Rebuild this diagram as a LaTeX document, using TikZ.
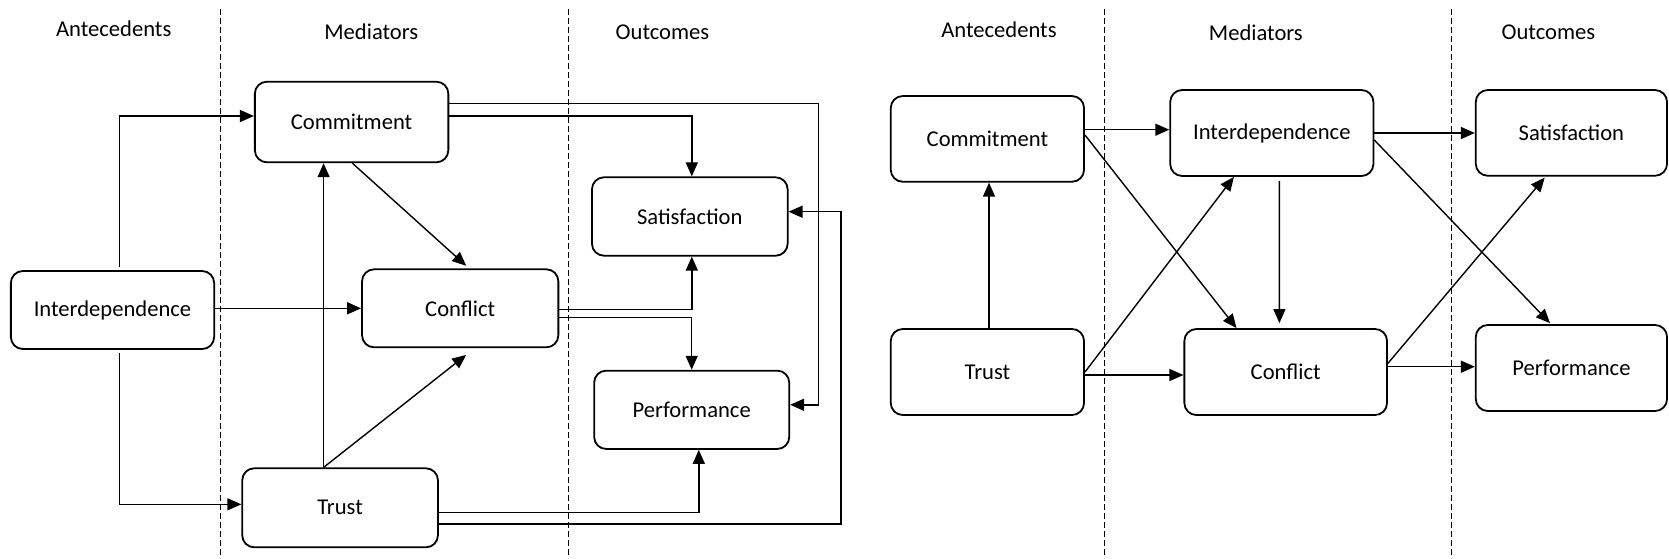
\documentclass[tikz,border=0pt]{standalone}
\usepackage{fontspec}
\setmainfont{Carlito}
\usetikzlibrary{arrows.meta}
\begin{document}
\begin{tikzpicture}[x=1pt,y=-1pt,
  box/.style={draw, line width=1.8pt, rounded corners=12pt, inner sep=0pt, align=center},
  conn/.style={line width=1.4pt, -{Triangle[length=14pt,width=12pt]}},
  divider/.style={line width=1.3pt, dash pattern=on 6pt off 3pt},
  header/.style={anchor=base, inner sep=0pt},
  every node/.style={font=\fontsize{22.6}{27}\selectfont}]
\useasboundingbox (0,0) rectangle (1669,558);
% dividers
\draw[divider] (220.5,9) -- (220.5,558);
\draw[divider] (568.2,9) -- (568.2,558);
\draw[divider] (1104.4,9) -- (1104.4,558);
\draw[divider] (1451.2,9) -- (1451.2,558);
% headers
\node[header] (hA1) at (113.7,36) {Antecedents};
\node[header] (hM1) at (371.3,39.3) {Mediators};
\node[header] (hO1) at (662.5,39) {Outcomes};
\node[header] (hA2) at (998.9,37.3) {Antecedents};
\node[header] (hM2) at (1255.9,40.7) {Mediators};
\node[header] (hO2) at (1548.4,39) {Outcomes};
% left diagram boxes
\node[box, minimum width=193.5pt, minimum height=80.6pt] (LComm) at (351.6,122) {Commitment};
\node[box, minimum width=195.7pt, minimum height=78.4pt] (LSat) at (689.8,216.5) {Satisfaction};
\node[box, minimum width=203.3pt, minimum height=78pt] (LInt) at (112.5,310) {Interdependence};
\node[box, minimum width=196.3pt, minimum height=78pt] (LConf) at (460.2,308.3) {Conflict};
\node[box, minimum width=195.1pt, minimum height=78.3pt] (LPerf) at (691.7,409.8) {Performance};
\node[box, minimum width=195.7pt, minimum height=79pt] (LTrust) at (340.1,507.8) {Trust};
% left connectors
\draw[conn] ([xshift=7.1pt,yshift=3pt]LInt.north) |- ([yshift=6pt]LComm.west);
\draw[conn] (LInt.east |- LConf.west) -- (LConf.west);
\draw[conn] ([xshift=7.1pt,yshift=-3.5pt]LInt.south) |- ([yshift=3.5pt]LTrust.west);
\draw[conn] ([yshift=6pt]LComm.east) -| ([xshift=2pt]LSat.north);
\draw[conn] ([yshift=18.3pt]LComm.east) -| ([xshift=28.2pt,yshift=5pt]LPerf.east) -- ([yshift=5pt]LPerf.east);
\draw[conn] ([xshift=0.8pt]LComm.south) -- ([xshift=6pt,yshift=2.6pt]LConf.north);
\coordinate (t1) at ([xshift=-16.5pt]LTrust.north);
\draw[conn] (t1) -- (t1 |- LComm.south);
\draw[conn] (t1) -- ([xshift=6pt,yshift=-6.7pt]LConf.south);
\draw[conn] ([yshift=-1pt]LConf.east) -| ([xshift=2pt]LSat.south);
\draw[conn] ([yshift=-9pt]LConf.east) -| (LPerf.north);
\draw[conn] ([yshift=-4.5pt]LTrust.east) -| ([xshift=7.1pt]LPerf.south);
\draw[conn] ([yshift=-16.2pt]LTrust.east) -| ([xshift=52.6pt,yshift=4.8pt]LSat.east) -- ([yshift=4.8pt]LSat.east);
% right diagram boxes
\node[box, minimum width=193.3pt, minimum height=85.7pt] (RComm) at (987.4,138.9) {Commitment};
\node[box, minimum width=203.2pt, minimum height=86pt] (RInt) at (1271.8,133) {Interdependence};
\node[box, minimum width=191.3pt, minimum height=85.7pt] (RSat) at (1571.4,132.9) {Satisfaction};
\node[box, minimum width=193.3pt, minimum height=86pt] (RTrust) at (987.4,372) {Trust};
\node[box, minimum width=202.7pt, minimum height=86pt] (RConf) at (1285.7,372) {Conflict};
\node[box, minimum width=191.3pt, minimum height=86pt] (RPerf) at (1571.4,368) {Performance};
% right connectors
\coordinate (c1) at ([yshift=9.2pt]RComm.east);
\draw[conn] (c1) -- (c1 -| RInt.west);
\draw[conn] (RInt.east) -- (RInt.east -| RSat.west);
\draw[conn] ([yshift=3.9pt]RComm.east) -- ([xshift=-49.2pt]RConf.north);
\draw[conn] (RTrust.east) -- ([xshift=-37.9pt]RInt.south);
\coordinate (c2) at ([yshift=-3pt]RTrust.east);
\draw[conn] (c2) -- (c2 -| RConf.west);
\draw[conn] ([xshift=7.6pt,yshift=-4pt]RInt.south) -- ([xshift=-6.3pt,yshift=5pt]RConf.north);
\draw[conn] ([yshift=-7pt]RInt.east) -- ([xshift=-21.4pt,yshift=1pt]RPerf.north);
\draw[conn] ([yshift=8.7pt]RConf.east) -- ([xshift=-26.7pt,yshift=-1pt]RSat.south);
\coordinate (c3) at ([yshift=5.3pt]RConf.east);
\draw[conn] (c3) -- (c3 -| RPerf.west);
\draw[conn] ([xshift=1.6pt]RTrust.north) -- ([xshift=1.6pt]RTrust.north |- RComm.south);
\end{tikzpicture}
\end{document}
